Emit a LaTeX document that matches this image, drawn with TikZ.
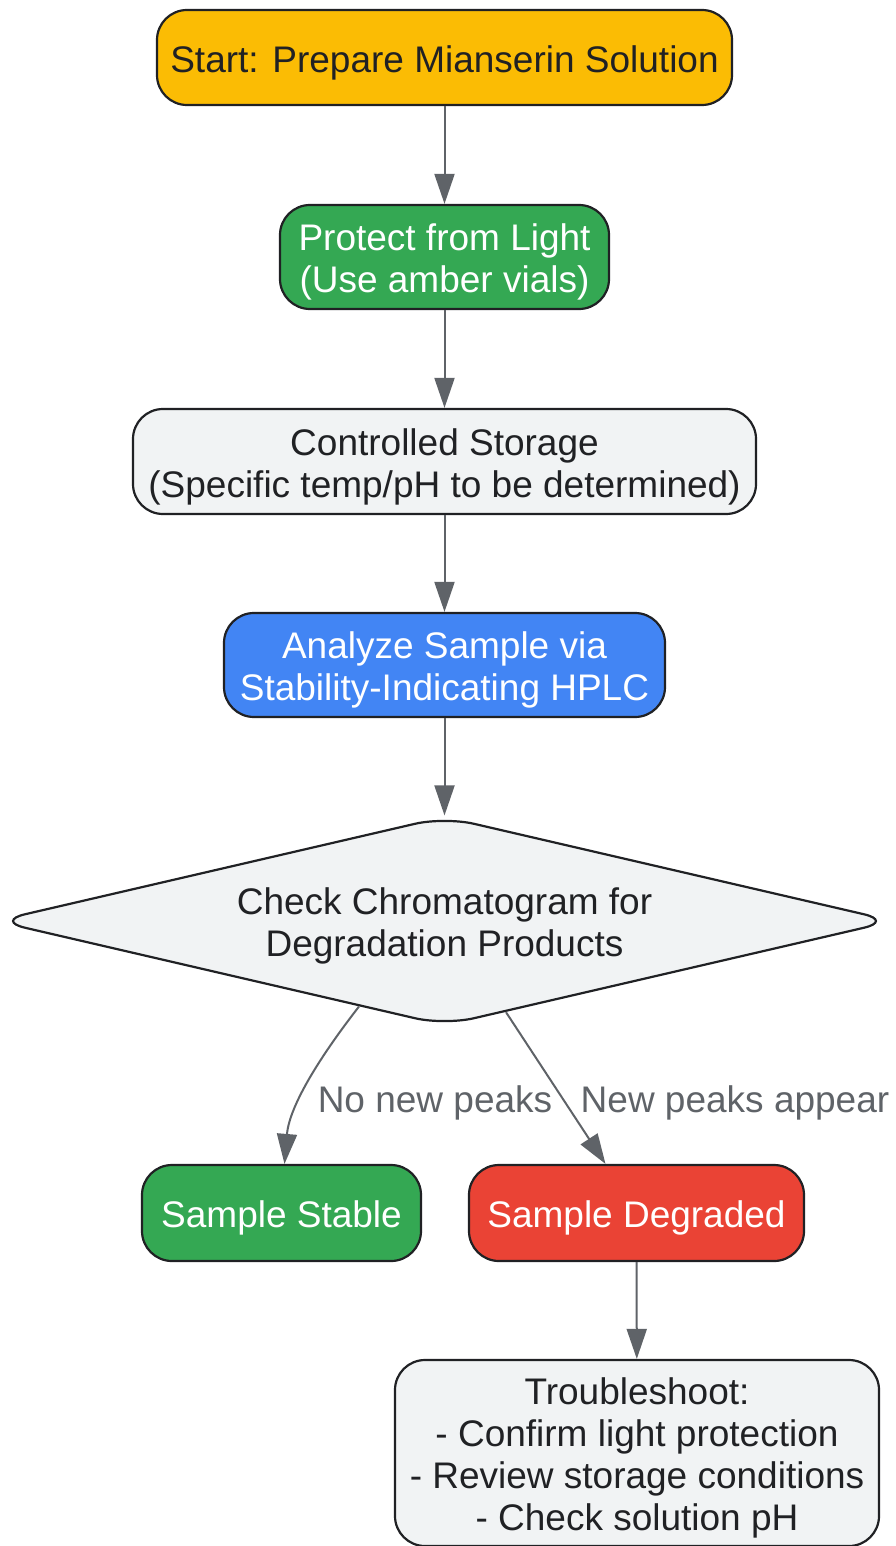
\documentclass[tikz,border=0pt]{standalone}
\usepackage{fontspec}
\setmainfont{Liberation Sans}
\usetikzlibrary{arrows.meta,shapes.geometric}
\definecolor{ink}{HTML}{202124}
\definecolor{edge}{HTML}{5F6368}
\definecolor{amber}{HTML}{FBBC04}
\definecolor{leaf}{HTML}{34A853}
\definecolor{mist}{HTML}{F1F3F4}
\definecolor{sky}{HTML}{4285F4}
\definecolor{rose}{HTML}{EA4335}
\begin{document}
\begin{tikzpicture}[x=1pt,y=-1pt,
  every node/.style={font=\fontsize{37}{42}\selectfont,align=center,text=ink},
  blk/.style={draw=ink,line width=2.2pt,rounded corners=30pt,inner sep=0pt},
  elbl/.style={text=edge,inner sep=0pt},
  arr/.style={draw=edge,line width=2pt,-{Triangle[length=30pt,width=20pt]}}]
  \def\up{\rule{0pt}{37pt}}
  \useasboundingbox (0,0) rectangle (895,1546);

  \node[blk,fill=amber,minimum width=575pt,minimum height=95pt] (start) at (444.5,57.5) {\up Start: Prepare Mianserin Solution};
  \node[blk,fill=leaf,text=white,minimum width=329pt,minimum height=104pt] (prot) at (444.5,257) {\up Protect from Light\\(Use amber vials)};
  \node[blk,fill=mist,minimum width=623pt,minimum height=105pt] (store) at (444.5,461.5) {\up Controlled Storage\\(Specific temp/pH to be determined)};
  \node[blk,fill=sky,text=white,minimum width=441pt,minimum height=104pt] (hplc) at (444.5,665) {\up Analyze Sample via\\Stability-Indicating HPLC};
  \node[blk,shape=diamond,fill=mist,aspect=4.3,minimum width=898pt,minimum height=209pt] (chk) at (444.5,921) {\up Check Chromatogram for\\Degradation Products};
  \node[blk,fill=leaf,text=white,minimum width=279pt,minimum height=96pt] (stable) at (281.5,1213) {\up Sample Stable};
  \node[blk,fill=rose,text=white,minimum width=335pt,minimum height=96pt] (degr) at (636.5,1213) {\up Sample Degraded};
  \node[blk,fill=mist,minimum width=484pt,minimum height=186pt] (fix) at (637,1453) {\up Troubleshoot:\\- Confirm light protection\\- Review storage conditions\\- Check solution pH};

  \foreach \a/\b in {start/prot,prot/store,store/hplc,hplc/chk,degr/fix}
    \draw[arr] (\a) -- (\b);
  \draw[arr] (chk.-135) .. controls +(-35,45) and +(5,-60) .. ([xshift=3pt]stable.north);
  \draw[arr] (chk.-56) -- ([xshift=-31pt]degr.north);

  \node[elbl] (lno) at (435,1098) {\up No new peaks};
  \node[elbl] (lyes) at (735,1098) {\up New peaks appear};
\end{tikzpicture}
\end{document}
